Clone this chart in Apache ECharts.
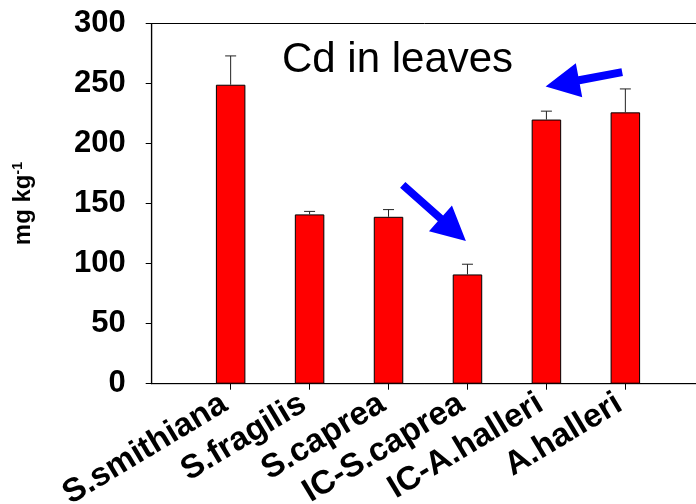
<!DOCTYPE html>
<html>
<head>
<meta charset="utf-8">
<script src="https://cdn.jsdelivr.net/npm/echarts@6/dist/echarts.min.js"></script>
<style>
  html, body { margin: 0; padding: 0; background: #fff; }
  #chart { width: 696px; height: 504px; }
</style>
</head>
<body>
<div id="chart"></div>
<script>
// Species / treatments (blank slots pad each end of the axis)
const species = ['S.smithiana', 'S.fragilis', 'S.caprea', 'IC-S.caprea', 'IC-A.halleri', 'A.halleri'];
// Cd concentration in leaves, mg kg-1
const cdLeaves = [249, 141, 139, 91, 220, 226];
// Standard error (upper whisker)
const cdError = [24, 2.5, 6, 8.5, 7, 19.5];
// Y-axis ticks
const yTicks = [0, 50, 100, 150, 200, 250, 300];

// Annotation arrows in axis units: [categorySlot, value] for tail and tip
const arrows = [
  { tail: [3.18, 165.6], tip: [3.98, 118.9] },
  { tail: [5.96, 259.5], tip: [4.99, 247.5] }
];

const FONT = '"Liberation Sans", Arial, Helvetica, sans-serif';
const slots = [''].concat(species, ['']);

const chart = echarts.init(document.getElementById('chart'), null, { renderer: 'canvas' });

const option = {
  animation: false,
  backgroundColor: '#ffffff',
  title: {
    text: 'Cd in leaves',
    left: 282,
    top: 39,
    padding: 0,
    textStyle: { fontFamily: FONT, fontSize: 42, fontWeight: 'normal', color: '#000' }
  },
  // plot box runs past the right edge of the canvas
  grid: {
    left: 151.7, top: 23.5, right: -8.3, bottom: 120.3,
    outerBoundsMode: 'none',
    show: true, borderColor: '#000', borderWidth: 1, backgroundColor: 'transparent'
  },
  xAxis: {
    type: 'category',
    data: slots,
    boundaryGap: false,
    axisLine: { lineStyle: { color: '#000', width: 1.2 } },
    axisTick: {
      length: 6, lineStyle: { color: '#000' },
      interval: (i) => i > 0 && i < slots.length - 1
    },
    axisLabel: {
      interval: (i) => i > 0 && i < slots.length - 1,
      rotate: 31,
      margin: 14,
      padding: [0, 7, 0, 0],
      fontFamily: FONT, fontSize: 33, fontWeight: 'bold', color: '#000'
    },
    splitLine: { show: false }
  },
  yAxis: {
    type: 'value',
    min: yTicks[0], max: yTicks[yTicks.length - 1], interval: yTicks[1] - yTicks[0],
    axisLine: { show: true, lineStyle: { color: '#000', width: 1.2 } },
    axisTick: { show: true, length: 6, lineStyle: { color: '#000' } },
    axisLabel: { margin: 26, fontFamily: FONT, fontSize: 31, fontWeight: 'bold', color: '#000' },
    splitLine: { show: false },
    name: '{a|mg kg}{s|-1}',
    nameLocation: 'middle',
    nameRotate: 90,
    nameGap: 115,
    nameTextStyle: {
      rich: {
        a: { fontFamily: FONT, fontSize: 24, fontWeight: 'bold', color: '#000' },
        s: { fontFamily: FONT, fontSize: 14, fontWeight: 'bold', color: '#000', verticalAlign: 'top', padding: [0, 0, 12, 0] }
      }
    }
  },
  series: [
    {
      type: 'bar',
      data: [null].concat(cdLeaves, [null]),
      barWidth: 29.5,
      itemStyle: { color: '#ff0000', borderColor: '#000', borderWidth: 1 },
      z: 2
    },
    {
      type: 'custom',
      data: cdLeaves.map((v, i) => [i + 1, v, v + cdError[i]]),
      renderItem: function (params, api) {
        const base = api.coord([api.value(0), api.value(1)]);
        const top = api.coord([api.value(0), api.value(2)]);
        const half = 5.5;
        return {
          type: 'group',
          children: [
            { type: 'line', shape: { x1: base[0], y1: base[1], x2: top[0], y2: top[1] },
              style: { stroke: '#222', lineWidth: 1 } },
            { type: 'line', shape: { x1: top[0] - half, y1: top[1], x2: top[0] + half, y2: top[1] },
              style: { stroke: '#222', lineWidth: 1 } }
          ]
        };
      },
      z: 3
    }
  ]
};

chart.setOption(option);

// Blue arrows placed through the axis scales
function slotToPx(s) {
  const p0 = chart.convertToPixel({ xAxisIndex: 0 }, 0);
  const p1 = chart.convertToPixel({ xAxisIndex: 0 }, 1);
  return p0 + (p1 - p0) * s;
}
function valToPx(v) {
  return chart.convertToPixel({ yAxisIndex: 0 }, v);
}
function arrowPolygon(a) {
  const tx = slotToPx(a.tail[0]), ty = valToPx(a.tail[1]);
  const hx = slotToPx(a.tip[0]), hy = valToPx(a.tip[1]);
  const dx = hx - tx, dy = hy - ty, len = Math.hypot(dx, dy);
  const ux = dx / len, uy = dy / len, nx = -uy, ny = ux;
  const shaft = 4, headHalf = 17.3, headLen = 34;
  const bx = hx - ux * headLen, by = hy - uy * headLen;
  return [
    [tx + nx * shaft, ty + ny * shaft],
    [bx + nx * shaft, by + ny * shaft],
    [bx + nx * headHalf, by + ny * headHalf],
    [hx, hy],
    [bx - nx * headHalf, by - ny * headHalf],
    [bx - nx * shaft, by - ny * shaft],
    [tx - nx * shaft, ty - ny * shaft]
  ];
}
chart.setOption({
  graphic: arrows.map((a) => ({
    type: 'polygon',
    shape: { points: arrowPolygon(a) },
    style: { fill: '#0000ff' },
    z: 10
  }))
});
</script>
</body>
</html>
